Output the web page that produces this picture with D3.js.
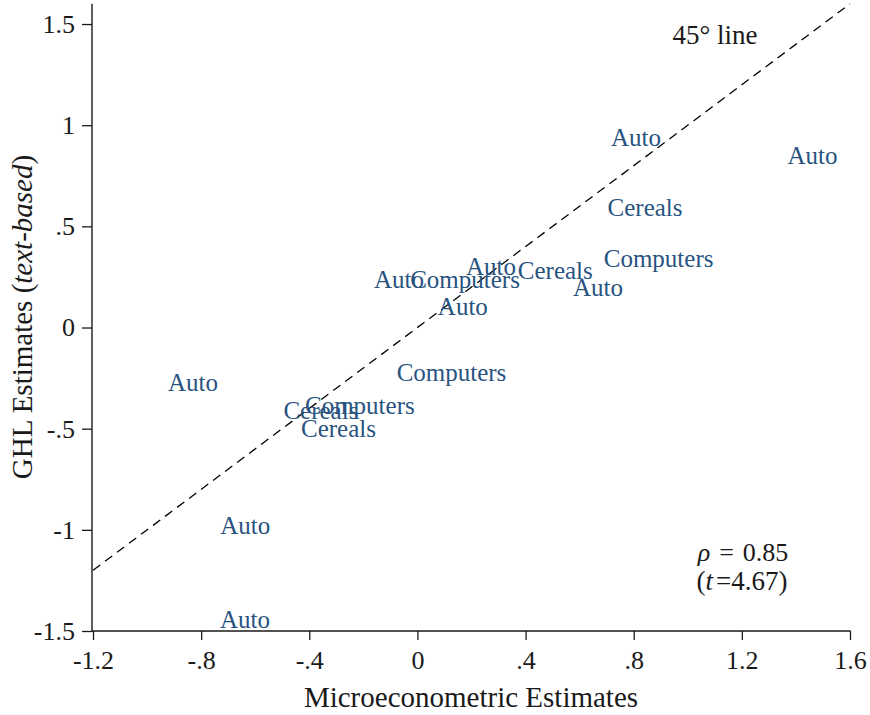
<!DOCTYPE html>
<html><head><meta charset="utf-8">
<script src="https://cdn.jsdelivr.net/npm/d3@7"></script>
<style>
body{margin:0;background:#fff;}
text{font-family:"Liberation Serif","Times New Roman",serif;}
</style></head>
<body><svg id="c" width="870" height="715"></svg>
<script>
const labels = ["Auto","Auto","Cereals","Computers","Auto","Cereals","Auto","Computers","Auto","Auto","Computers","Auto","Computers","Cereals","Cereals","Auto","Auto"];
const microEst = [0.808,1.461,0.842,0.892,0.668,0.510,0.272,0.176,-0.068,0.168,0.126,-0.830,-0.213,-0.357,-0.292,-0.637,-0.638];
const ghlEst   = [0.937,0.850,0.595,0.343,0.200,0.284,0.304,0.235,0.235,0.106,-0.220,-0.274,-0.383,-0.408,-0.499,-0.981,-1.441];
const xTicks = [-1.2,-0.8,-0.4,0,0.4,0.8,1.2,1.6];
const xTickLabels = ["-1.2","-.8","-.4","0",".4",".8","1.2","1.6"];
const yTicks = [-1.5,-1,-0.5,0,0.5,1,1.5];
const yTickLabels = ["-1.5","-1","-.5","0",".5","1","1.5"];
const lineEnds = [-1.2,1.6];

const svg = d3.select("#c");
const x = d3.scaleLinear().domain([-1.2,1.6]).range([93,850]);
const y = d3.scaleLinear().domain([-1.5,1.6]).range([631,3.8]);
const ink = "#1a1a1a";

// 45 degree line
svg.append("line")
  .attr("x1",x(lineEnds[0])).attr("y1",y(lineEnds[0]))
  .attr("x2",x(lineEnds[1])).attr("y2",y(lineEnds[1]))
  .attr("stroke","#000").attr("stroke-width",1.3).attr("stroke-dasharray","9,6");

// axes
const xAxis = d3.axisBottom(x).tickValues(xTicks).tickFormat((d,i)=>xTickLabels[i]).tickSize(9).tickPadding(11);
const gx = svg.append("g").attr("transform","translate(0,631)").call(xAxis);
gx.attr("font-family",null);
gx.select(".domain").attr("d","M92,0H850.6").attr("stroke",ink).attr("stroke-width",1.4);
gx.selectAll(".tick line").attr("stroke",ink).attr("stroke-width",1.3);
gx.selectAll(".tick text").attr("font-size",26).attr("fill",ink);

const yAxis = d3.axisLeft(y).tickValues(yTicks).tickFormat((d,i)=>yTickLabels[i]).tickSize(10).tickPadding(7);
const gy = svg.append("g").attr("transform","translate(92,0)").call(yAxis);
gy.attr("font-family",null);
gy.select(".domain").attr("d","M0,3.8V631.6").attr("stroke",ink).attr("stroke-width",1.4);
gy.selectAll(".tick line").attr("stroke",ink).attr("stroke-width",1.3);
gy.selectAll(".tick text").attr("font-size",26).attr("fill",ink);

// point labels
svg.append("g").selectAll("text").data(labels).join("text")
  .attr("x",(d,i)=>x(microEst[i]))
  .attr("y",(d,i)=>y(ghlEst[i]))
  .attr("text-anchor","middle")
  .attr("dominant-baseline","central")
  .attr("font-size",25)
  .attr("fill","#28537f")
  .text(d=>d);

// annotations
svg.append("text").attr("x",715).attr("y",44).attr("text-anchor","middle")
  .attr("font-size",27).attr("fill",ink).text("45° line");
const rho = svg.append("text").attr("x",743).attr("y",561).attr("text-anchor","middle")
  .attr("font-size",26).attr("fill",ink);
rho.append("tspan").attr("font-style","italic").text("ρ");
rho.append("tspan").attr("dx",9).text("=");
rho.append("tspan").attr("dx",9).text("0.85");
const tt = svg.append("text").attr("x",742).attr("y",590).attr("text-anchor","middle")
  .attr("font-size",27).attr("fill",ink);
tt.append("tspan").text("(");
tt.append("tspan").attr("font-style","italic").text("t");
tt.append("tspan").attr("dx",3).text("=4.67)");

// axis titles
svg.append("text").attr("x",471).attr("y",707).attr("text-anchor","middle")
  .attr("font-size",29).attr("fill",ink).text("Microeconometric Estimates");
const yt = svg.append("text").attr("transform","translate(32,317) rotate(-90)").attr("text-anchor","middle")
  .attr("font-size",29).attr("fill",ink);
yt.append("tspan").text("GHL Estimates (");
yt.append("tspan").attr("font-style","italic").text("text-based");
yt.append("tspan").text(")");
</script></body></html>
